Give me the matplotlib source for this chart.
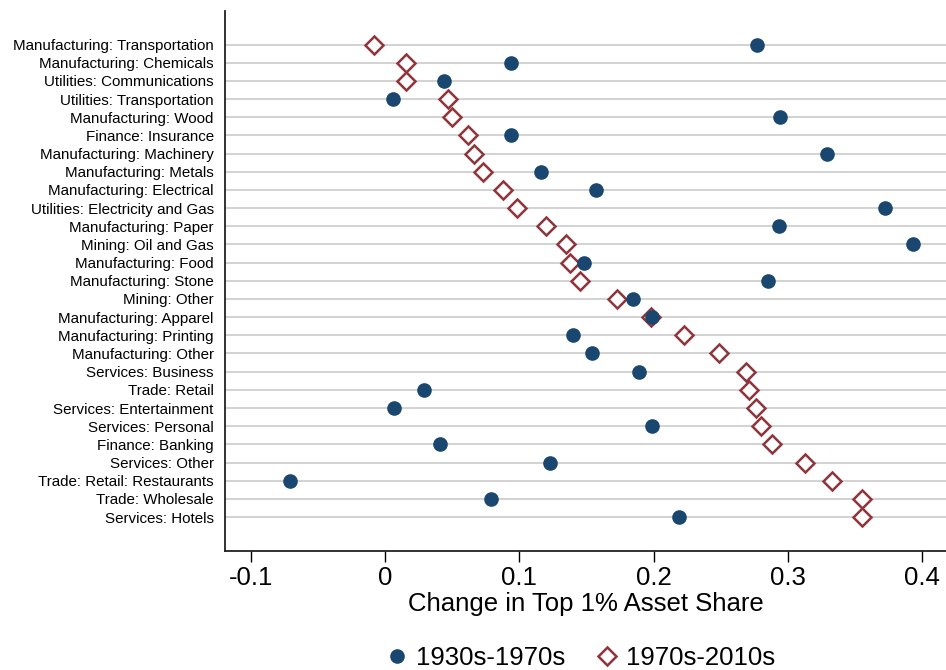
import numpy as np
import matplotlib
matplotlib.use("Agg")
import matplotlib.pyplot as plt

plt.rcParams['font.family'] = ['Liberation Sans', 'DejaVu Sans']

# industries, top to bottom
industries = [
    "Manufacturing: Transportation", "Manufacturing: Chemicals",
    "Utilities: Communications", "Utilities: Transportation",
    "Manufacturing: Wood", "Finance: Insurance", "Manufacturing: Machinery",
    "Manufacturing: Metals", "Manufacturing: Electrical",
    "Utilities: Electricity and Gas", "Manufacturing: Paper",
    "Mining: Oil and Gas", "Manufacturing: Food", "Manufacturing: Stone",
    "Mining: Other", "Manufacturing: Apparel", "Manufacturing: Printing",
    "Manufacturing: Other", "Services: Business", "Trade: Retail",
    "Services: Entertainment", "Services: Personal", "Finance: Banking",
    "Services: Other", "Trade: Retail: Restaurants", "Trade: Wholesale",
    "Services: Hotels",
]

# change 1930s-1970s
early = [0.277, 0.094, 0.044, 0.006, 0.294, 0.094, 0.329, 0.116, 0.157,
         0.372, 0.293, 0.393, 0.148, 0.285, 0.185, 0.199, 0.140, 0.154,
         0.189, 0.029, 0.007, 0.199, 0.041, 0.123, -0.071, 0.079, 0.219]

# change 1970s-2010s
late = [-0.008, 0.016, 0.016, 0.047, 0.050, 0.062, 0.066, 0.073, 0.088,
        0.098, 0.120, 0.135, 0.138, 0.145, 0.173, 0.198, 0.223, 0.249,
        0.269, 0.271, 0.276, 0.280, 0.288, 0.313, 0.333, 0.355, 0.355]

navy = '#1a476f'
maroon = '#90353b'

fig = plt.figure(figsize=(9.46, 6.70), dpi=100)
ax = fig.add_axes([0.2378, 0.1776, 0.7622, 0.806])

ypos = np.arange(len(industries))
for y in ypos:
    ax.axhline(y, color='#cfcfcf', lw=1.3, zorder=0)

ax.plot(early, ypos, 'o', color=navy, ms=9.5, ls='none', zorder=3,
        label='1930s-1970s')
ax.plot(late, ypos, 'D', mfc='white', mec=maroon, mew=1.8, ms=9,
        ls='none', zorder=2, label='1970s-2010s')

ax.set_yticks(ypos)
ax.set_yticklabels(industries, fontsize=10.9)
ax.tick_params(axis='y', length=0, pad=8)
ax.set_ylim(len(industries) - 1 + 1.87, -1.85)

ax.set_xlim(-0.1191, 0.4177)
ax.set_xticks([-0.1, 0, 0.1, 0.2, 0.3, 0.4])
ax.set_xticklabels(['-0.1', '0', '0.1', '0.2', '0.3', '0.4'])
ax.tick_params(axis='x', length=8, width=1, labelsize=18.5, pad=3)
ax.set_xlabel('Change in Top 1% Asset Share', fontsize=18.5, labelpad=1)

for s in ['top', 'right']:
    ax.spines[s].set_visible(False)
for s in ['left', 'bottom']:
    ax.spines[s].set_color('#222222')
    ax.spines[s].set_linewidth(1.3)

ax.legend(loc='center', bbox_to_anchor=(0.49, -0.198), ncol=2,
          frameon=False, fontsize=18.5, handletextpad=0.15, columnspacing=1.0,
          handlelength=1.2)

fig.savefig('out.png', dpi=100)
